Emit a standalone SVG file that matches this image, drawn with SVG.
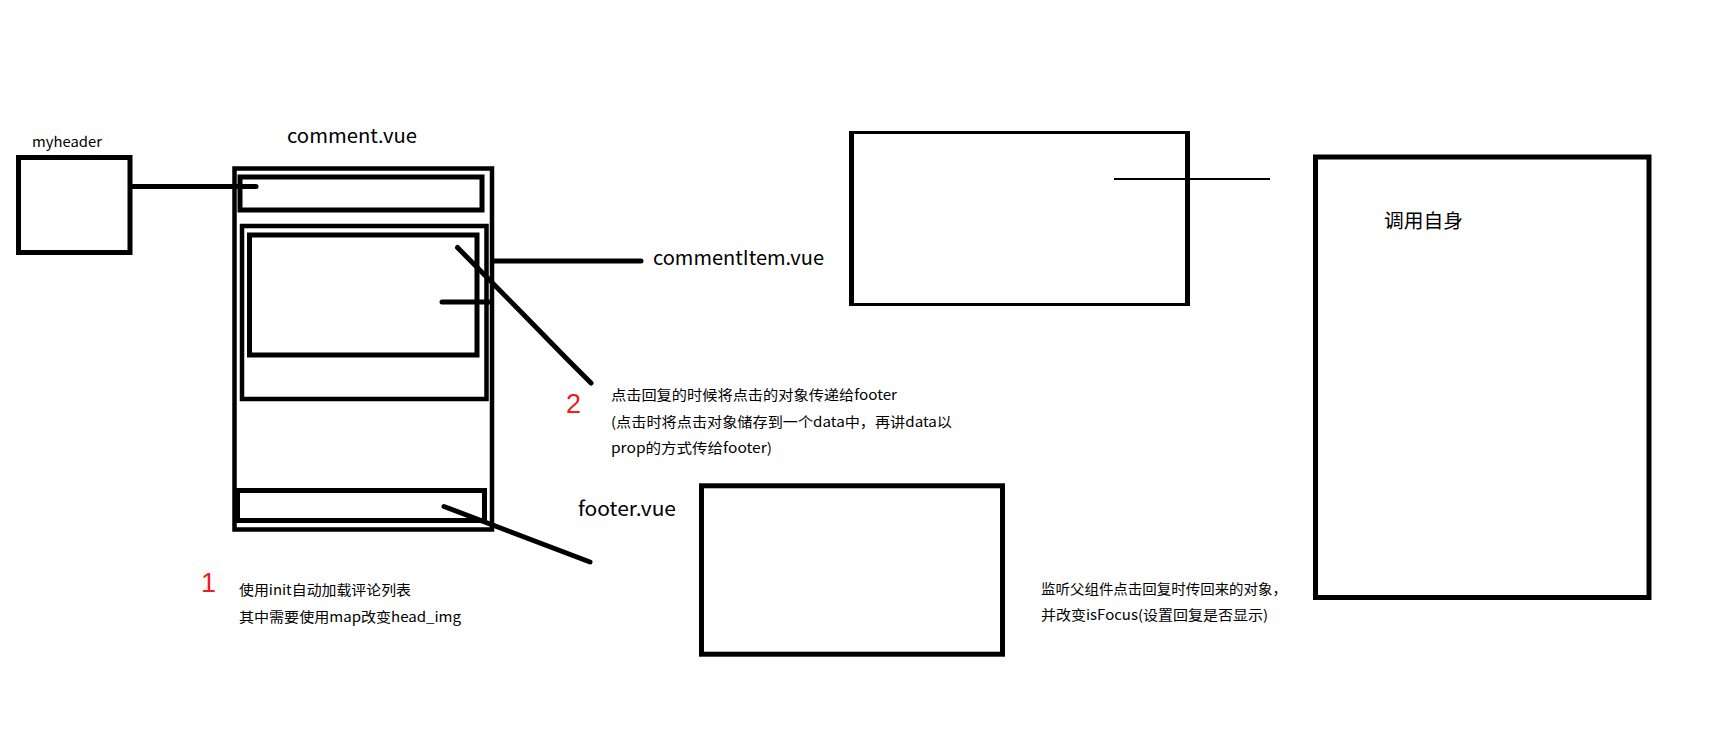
<svg xmlns="http://www.w3.org/2000/svg" width="1711" height="750" viewBox="0 0 1711 750">
<style>
.b{fill:none;stroke:#000;stroke-width:5}
.m{fill:none;stroke:#000;stroke-width:4.5}
.c{fill:none;stroke:#000;stroke-width:5;stroke-linecap:round}
.t{font-family:"Noto Sans CJK SC","Microsoft YaHei","Liberation Sans",sans-serif;fill:#000}
.r{font-family:"Liberation Sans","Noto Sans",sans-serif;fill:#ee1c24;font-size:27px}
</style>
<rect width="1711" height="750" fill="#fff"/>
<g id="myheader">
<rect class="b" x="18.5" y="157.5" width="111.5" height="95"/>
<text class="t" x="32" y="147" font-size="14" textLength="70" lengthAdjust="spacingAndGlyphs">myheader</text>
</g>
<g id="comment">
<rect class="m" x="234.5" y="168.5" width="257.5" height="361"/>
<rect class="b" x="240" y="177" width="242" height="33"/>
<rect class="m" x="242" y="226" width="244.5" height="173"/>
<rect class="b" x="249.5" y="235" width="227.5" height="120"/>
<rect class="b" x="237.5" y="490.5" width="247" height="30"/>
<text class="t" x="287" y="143" font-size="19" textLength="130" lengthAdjust="spacingAndGlyphs">comment.vue</text>
</g>
<g id="commentItem-label">
<text class="t" x="653" y="265" font-size="20" textLength="171" lengthAdjust="spacingAndGlyphs">commentItem.vue</text>
</g>
<g id="note2">
<text class="r" x="566" y="413">2</text>
<text class="t" x="611" y="400" font-size="14" textLength="286" lengthAdjust="spacingAndGlyphs">点击回复的时候将点击的对象传递给footer</text>
<text class="t" x="611" y="427" font-size="14" textLength="341" lengthAdjust="spacingAndGlyphs">(点击时将点击对象储存到一个data中，再讲data以</text>
<text class="t" x="611" y="453" font-size="14" textLength="161" lengthAdjust="spacingAndGlyphs">prop的方式传给footer)</text>
</g>
<g id="note1">
<text class="r" x="201" y="592">1</text>
<text class="t" x="239" y="595" font-size="14" textLength="172" lengthAdjust="spacingAndGlyphs">使用init自动加载评论列表</text>
<text class="t" x="239" y="622" font-size="14" textLength="222" lengthAdjust="spacingAndGlyphs">其中需要使用map改变head_img</text>
</g>
<g id="footer">
<rect class="b" x="701.5" y="485.8" width="301" height="168.4"/>
<text class="t" x="578" y="516" font-size="20" textLength="98" lengthAdjust="spacingAndGlyphs">footer.vue</text>
</g>
<g id="footer-note">
<text class="t" x="1041" y="594" font-size="14" textLength="246" lengthAdjust="spacingAndGlyphs">监听父组件点击回复时传回来的对象，</text>
<text class="t" x="1041" y="620" font-size="14" textLength="227" lengthAdjust="spacingAndGlyphs">并改变isFocus(设置回复是否显示)</text>
</g>
<g id="box-top">
<line x1="851.5" y1="131" x2="851.5" y2="306" stroke="#000" stroke-width="5"/>
<line x1="1187.5" y1="131" x2="1187.5" y2="306" stroke="#000" stroke-width="5"/>
<line x1="849" y1="132.5" x2="1190" y2="132.5" stroke="#000" stroke-width="3"/>
<line x1="849" y1="304.5" x2="1190" y2="304.5" stroke="#000" stroke-width="3"/>
</g>
<g id="self">
<rect class="b" x="1315.5" y="157" width="333.5" height="440.5"/>
<text class="t" x="1384" y="228" font-size="19.5" textLength="79" lengthAdjust="spacingAndGlyphs">调用自身</text>
</g>
<g id="connectors">
<line class="c" x1="132" y1="186.5" x2="256" y2="186.5"/>
<line class="c" x1="442" y1="302" x2="491" y2="302"/>
<line class="c" x1="494" y1="261" x2="641" y2="261"/>
<polyline class="c" points="457.5,247.5 524,315 567,359 591,383"/>
<line class="c" x1="444" y1="506.5" x2="590" y2="562"/>
<line x1="1114" y1="179" x2="1270" y2="179" stroke="#000" stroke-width="2"/>
</g>
</svg>
